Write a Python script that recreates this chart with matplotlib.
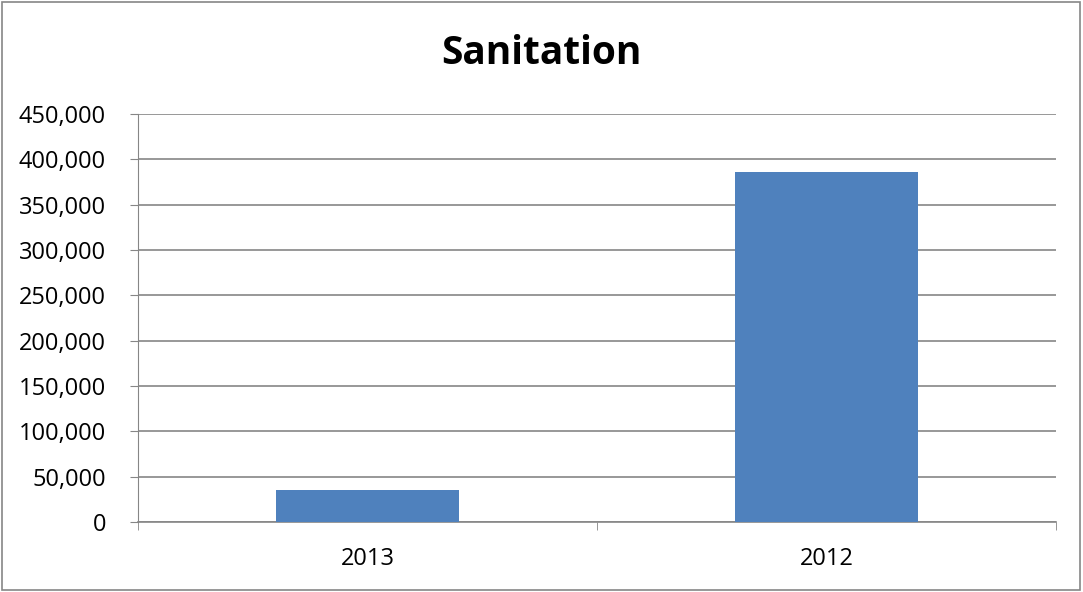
import matplotlib.pyplot as plt
from matplotlib.ticker import FuncFormatter
from matplotlib.patches import Rectangle

categories = ['2013', '2012']
values = [35000, 386000]

W, H = 1083, 592
fig = plt.figure(figsize=(W / 100, H / 100), dpi=100)
ax = fig.add_axes([138 / W, 1 - 522 / H, (1056 - 138) / W, (522 - 114) / H])

ax.bar(range(len(categories)), values, width=0.4, color='#4f81bd', zorder=3)

ax.set_xlim(-0.5, len(categories) - 0.5)
ax.set_ylim(0, 450000)
ax.set_yticks(range(0, 450001, 50000))
ax.yaxis.set_major_formatter(FuncFormatter(lambda v, p: f'{int(v):,}'))
ax.set_xticks(range(len(categories)))
ax.set_xticklabels(categories)
ax.set_xticks([-0.5, 0.5, 1.5], minor=True)
ax.tick_params(axis='x', which='major', length=0, pad=18, labelsize=17)
ax.tick_params(axis='x', which='minor', length=6, color='#868686', direction='out')
ax.tick_params(axis='y', length=6, color='#868686', direction='out', pad=17, labelsize=17)

ax.grid(axis='y', color='#868686', linewidth=1.2, zorder=0)
for s in ['top', 'right']:
    ax.spines[s].set_visible(False)
ax.spines['left'].set_color('#868686')
ax.spines['bottom'].set_color('#868686')
ax.spines['bottom'].set_linewidth(1.2)

for lab in ax.get_xticklabels() + ax.get_yticklabels():
    lab.set_fontfamily('Open Sans')

fig.text(0.5, 1 - 53 / H, 'Sanitation', ha='center', va='center',
         fontsize=28, fontweight='bold', family='Open Sans')

fig.patches.append(Rectangle((0.002, 0.003), 0.995, 0.994, transform=fig.transFigure,
                             fill=False, edgecolor='#868686', linewidth=1.2))

fig.savefig('out.png', dpi=100)
